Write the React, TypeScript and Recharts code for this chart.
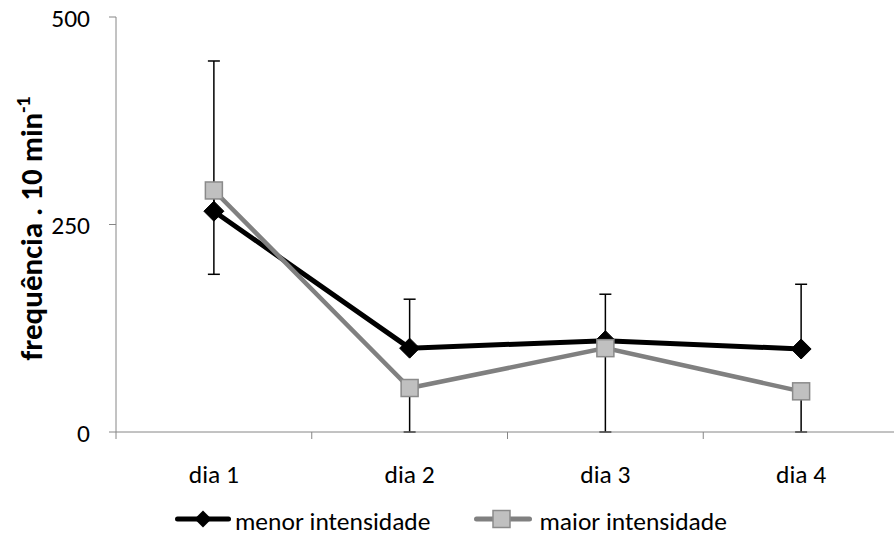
import React from 'react';
import { ComposedChart, Line, XAxis, YAxis, ErrorBar, Legend } from 'recharts';

const categories = ['dia 1', 'dia 2', 'dia 3', 'dia 4'];
const menorValues = [266, 101, 110, 100];
const maiorValues = [291, 53, 101, 49];
// one-sided error bars: menor upward, maior downward
const menorPlusErr = [181, 59, 56, 78];
const maiorMinusErr = [101, 53, 101, 49];
const yTicks = [0, 250, 500];

const data = categories.map((c, i) => ({
  day: c,
  menor: menorValues[i],
  maior: maiorValues[i],
  menorErr: [0, menorPlusErr[i]],
  maiorErr: [maiorMinusErr[i], 0],
}));

const FONT = 'Carlito, Calibri, Lato, "Liberation Sans", sans-serif';
const FS = 25.5;
const AXIS = '#868686';
const CHART_W = 900;
const CHART_H = 540;
const MARGIN = { top: 17, right: 1, left: 0, bottom: 68 };
const Y_W = 116;
const BAND = (CHART_W - MARGIN.left - MARGIN.right - Y_W) / categories.length;
const X_TICK_SIZE = 7;
const X_TICK_MARGIN = 26;

const XTick = (props: any) => {
  const { x, y, payload } = props;
  const half = payload && typeof payload.offset === 'number' && payload.offset > 0 ? payload.offset : BAND / 2;
  const axisY = y - X_TICK_SIZE - X_TICK_MARGIN;
  return (
    <g>
      <line x1={x - half} x2={x - half} y1={axisY} y2={axisY + 7} stroke={AXIS} strokeWidth={1} />
      <text x={x} y={y} dy="0.71em" textAnchor="middle" fontFamily={FONT} fontSize={FS} fill="#000">
        {payload.value}
      </text>
    </g>
  );
};

const YTick = (props: any) => {
  const { x, y, payload } = props;
  return (
    <text x={x} y={y} dy="0.39em" textAnchor="end" fontFamily={FONT} fontSize={FS} fill="#000">
      {payload.value}
    </text>
  );
};

const Diamond = (props: any) => {
  const { cx, cy, index } = props;
  if (cx == null || cy == null) return <g key={`d${index}`} />;
  const h = 10;
  return (
    <polygon
      key={`d${index}`}
      points={`${cx},${cy - h} ${cx + h},${cy} ${cx},${cy + h} ${cx - h},${cy}`}
      fill="#000"
      stroke="#000"
      strokeWidth={1}
    />
  );
};

const Square = (props: any) => {
  const { cx, cy, index } = props;
  if (cx == null || cy == null) return <g key={`s${index}`} />;
  const s = 17;
  return (
    <rect key={`s${index}`} x={cx - s / 2} y={cy - s / 2} width={s} height={s} fill="#c0c0c0" stroke="#8a8a8a" strokeWidth={1.5} />
  );
};

const YLabel = (props: any) => {
  const vb = props.viewBox || { x: 0, y: MARGIN.top, width: Y_W, height: 415 };
  const cx = 42;
  const cy = vb.y + vb.height / 2 + 4;
  return (
    <text
      x={cx}
      y={cy}
      transform={`rotate(-90, ${cx}, ${cy})`}
      textAnchor="middle"
      fontFamily={FONT}
      fontSize={31}
      fontWeight="bold"
      fill="#000"
    >
      frequência . 10 min
      <tspan dy={-12} fontSize={20}>-1</tspan>
    </text>
  );
};

const LegendContent = () => (
  <div style={{ display: 'flex', justifyContent: 'flex-start', alignItems: 'center', paddingLeft: 175, fontFamily: FONT, fontSize: FS, color: '#000', lineHeight: '26px' }}>
    <div style={{ display: 'flex', alignItems: 'center', marginRight: 44 }}>
      <svg width={56} height={22} style={{ marginRight: 4, marginTop: -6 }}>
        <line x1={2.5} x2={53.5} y1={11} y2={11} stroke="#000" strokeWidth={5} strokeLinecap="round" />
        <polygon points="28,2.5 36.5,11 28,19.5 19.5,11" fill="#000" />
      </svg>
      <span>menor intensidade</span>
    </div>
    <div style={{ display: 'flex', alignItems: 'center' }}>
      <svg width={58} height={22} style={{ marginRight: 7, marginTop: -6 }}>
        <line x1={2.5} x2={55.5} y1={11} y2={11} stroke="#808080" strokeWidth={5} strokeLinecap="round" />
        <rect x={19} y={2.5} width={17} height={17} fill="#c0c0c0" stroke="#8a8a8a" strokeWidth={1.5} />
      </svg>
      <span>maior intensidade</span>
    </div>
  </div>
);

export default function App() {
  return (
    <div style={{ position: 'absolute', left: 0, top: 0, width: 894, height: 540, overflow: 'hidden', background: '#fff' }}>
      <ComposedChart width={CHART_W} height={CHART_H} data={data} margin={MARGIN}>
        <XAxis
          dataKey="day"
          scale="band"
          stroke={AXIS}
          axisLine={{ stroke: AXIS, strokeWidth: 1 }}
          tickLine={false}
          tickSize={X_TICK_SIZE}
          tickMargin={X_TICK_MARGIN}
          tick={<XTick />}
          height={40}
          interval={0}
        />
        <YAxis
          domain={[0, 500]}
          ticks={yTicks}
          width={Y_W}
          axisLine={{ stroke: AXIS, strokeWidth: 1 }}
          tickLine={{ stroke: AXIS, strokeWidth: 1 }}
          tickSize={7}
          tickMargin={19}
          tick={<YTick />}
          label={<YLabel />}
          allowDataOverflow
        />
        <Legend
          layout="horizontal"
          verticalAlign="middle"
          align="center"
          content={<LegendContent />}
          wrapperStyle={{ position: 'absolute', top: 509, left: 0, width: 894, height: 26 }}
        />
        <Line
          dataKey="menor"
          name="menor intensidade"
          stroke="#000"
          strokeWidth={5}
          dot={Diamond}
          activeDot={false}
          isAnimationActive={false}
        >
          <ErrorBar dataKey="menorErr" direction="y" width={6} strokeWidth={1.5} stroke="#000" />
        </Line>
        <Line
          dataKey="maior"
          name="maior intensidade"
          stroke="#808080"
          strokeWidth={4.5}
          dot={Square}
          activeDot={false}
          isAnimationActive={false}
        >
          <ErrorBar dataKey="maiorErr" direction="y" width={6} strokeWidth={1.5} stroke="#000" />
        </Line>
      </ComposedChart>
    </div>
  );
}
